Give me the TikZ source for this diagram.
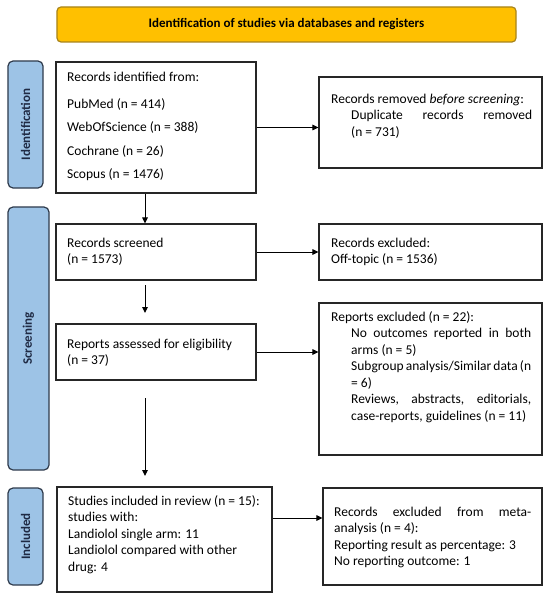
\documentclass[tikz,border=0pt]{standalone}
\usepackage{fontspec}
\setmainfont{Carlito}
\usetikzlibrary{arrows.meta}
\definecolor{hdrfill}{HTML}{FFC000}
\definecolor{hdrdraw}{HTML}{A8841A}
\definecolor{tabfill}{HTML}{9DC3E6}
\definecolor{tabdraw}{HTML}{2F3B4C}
\definecolor{tabtext}{HTML}{1F2A44}
\newcommand{\myind}{\rule{20bp}{0pt}}
\newcommand{\fst}{\rule{0pt}{11bp}}
\begin{document}
\begin{tikzpicture}[x=1bp,y=-1bp,
  box/.style={draw=black!85, line width=1.1bp, inner sep=0pt, rectangle},
  tabbox/.style={draw=tabdraw, fill=tabfill, line width=1.2bp, rounded corners=5bp, inner sep=0pt},
  tablabel/.style={text=tabtext, font=\bfseries\fontsize{13bp}{15bp}\selectfont, inner sep=0pt, rotate=90},
  txt/.style={inner sep=0pt, anchor=north west, align=left, font=\fontsize{13.5bp}{16.5bp}\selectfont},
  arr/.style={-{Triangle[length=6bp,width=5.5bp]}, line width=1bp, black}]
\fill[white] (0,0) rectangle (550,599);
\useasboundingbox (0,0) rectangle (550,599);
% header
\node[draw=hdrdraw, fill=hdrfill, line width=1.2bp, rounded corners=4bp, inner sep=0pt,
  minimum width=459bp, minimum height=35bp,
  font=\bfseries\fontsize{13bp}{15bp}\selectfont] (head) at (286.5,24.5)
  {Identification of studies via databases and registers};
% side tabs
\node[tabbox, minimum width=35bp, minimum height=127bp] (tabI) at (25.5,124.5) {};
\node[tabbox, minimum width=41bp, minimum height=263bp] (tabS) at (28.5,338.5) {};
\node[tabbox, minimum width=35bp, minimum height=97bp] (tabN) at (25.5,536.5) {};
\node[tablabel] (labI) at (tabI) {Identification};
\node[tablabel] (labS) at (tabS) {Screening};
\node[tablabel] (labN) at (tabN) {Included};
% boxes
\node[box, minimum width=200bp, minimum height=131bp] (ident) at (156,127.5) {};
\node[box, minimum width=223bp, minimum height=91bp] (removed) at (430.5,122.5) {};
\node[box, minimum width=200bp, minimum height=56bp] (screened) at (156,252) {};
\node[box, minimum width=223bp, minimum height=56bp] (excl) at (430.5,252) {};
\node[box, minimum width=200bp, minimum height=56bp] (assessed) at (156,352) {};
\node[box, minimum width=223bp, minimum height=152bp] (repexcl) at (430.5,379) {};
\node[box, minimum width=215bp, minimum height=105bp] (studies) at (164.5,539.5) {};
\node[box, minimum width=219bp, minimum height=97bp] (meta) at (432.5,536.5) {};
% texts (top = first baseline - 11)
\node[txt] (tident) at (67,70) {\fst Records identified from:\\[10.5bp]
  PubMed (n = 414)\\[7bp] WebOfScience (n = 388)\\[7bp] Cochrane (n = 26)\\[7bp] Scopus (n = 1476)};
\node[txt] (tremoved) at (331,92) {\fst Records removed \textit{before screening}:\\
  \myind\makebox[181bp][s]{Duplicate records removed}\\
  \myind(n = 731)};
\node[txt] (tscreened) at (67,236) {\fst Records screened\\ (n = 1573)};
\node[txt] (texcl) at (331,236) {\fst Records excluded:\\ Off-topic (n = 1536)};
\node[txt] (tassessed) at (67,337) {\fst Reports assessed for eligibility\\ (n = 37)};
\node[txt] (trepexcl) at (331,310) {\fst Reports excluded (n = 22):\\
  \myind\makebox[180bp][s]{No outcomes reported in both}\\
  \myind arms (n = 5)\\
  \myind\makebox[180bp][s]{Subgroup analysis/Similar data (n}\\
  \myind = 6)\\
  \myind\makebox[180bp][s]{Reviews, abstracts, editorials,}\\
  \myind case-reports, guidelines (n = 11)};
\node[txt] (tstudies) at (68,494) {\fst Studies included in review (n = 15):\\
  studies with:\\ Landiolol single arm: 11\\ Landiolol compared with other\\ drug: 4};
\node[txt] (tmeta) at (334,505) {\fst\makebox[197bp][s]{Records excluded from meta-}\\
  analysis (n = 4):\\ Reporting result as percentage: 3\\ No reporting outcome: 1};
% arrows
\coordinate (c1) at (145,285);
\coordinate (c2) at (145,313);
\coordinate (c3) at (145,398);
\coordinate (c4) at (145,476);
\coordinate (ay) at (0,518);
\draw[arr] (ident.south -| c1) -- (screened.north -| c1);
\draw[arr] (c1) -- (c2);
\draw[arr] (c3) -- (c4);
\draw[arr] (ident.east) -- (ident.east -| removed.west);
\draw[arr] (screened.east) -- (excl.west);
\draw[arr] (assessed.east) -- (assessed.east -| repexcl.west);
\draw[arr] (studies.east |- ay) -- (meta.west |- ay);
\end{tikzpicture}
\end{document}
